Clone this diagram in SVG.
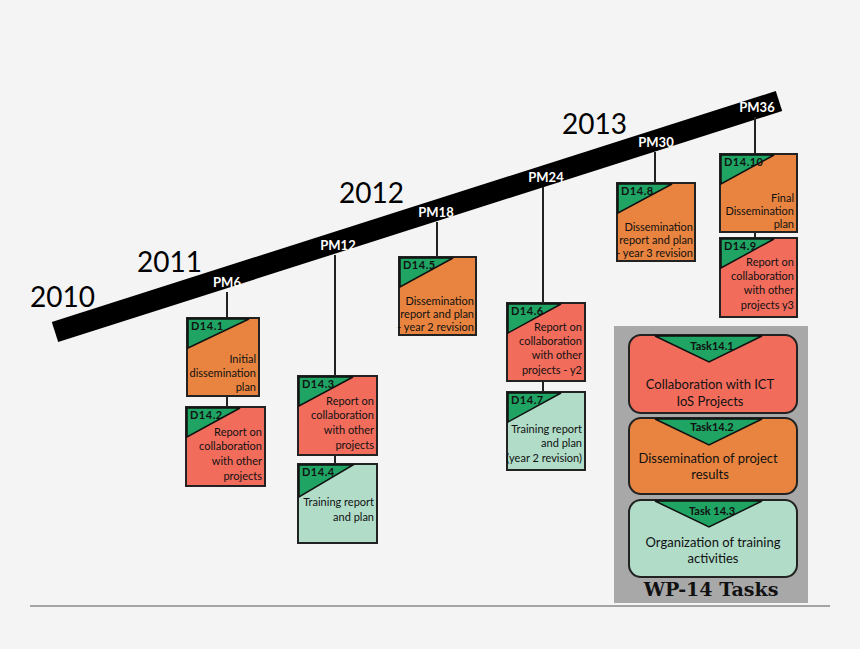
<svg xmlns="http://www.w3.org/2000/svg" width="860" height="649" viewBox="0 0 860 649">
<style>
.bx{stroke:#222;stroke-width:2}
.o{fill:#e8843f}.s{fill:#f26c5c}.m{fill:#b0dcc8}
.tri{fill:#1fa463;stroke:#111;stroke-width:1.5}
.id{font:bold 11px Lato,"DejaVu Sans",sans-serif;fill:#111;letter-spacing:0.5px}
.t{font:11px Lato,"Liberation Sans",sans-serif;fill:#111;text-anchor:end}
.pm{font:bold 13px Lato,"Liberation Sans",sans-serif;fill:#fff;text-anchor:middle}
.yr{font:28px Lato,"Liberation Sans",sans-serif;fill:#000}
.st{stroke:#222;stroke-width:2}
.tt{font:13px Lato,"Liberation Sans",sans-serif;fill:#111;text-anchor:middle}
.tk{font:bold 11px Lato,"Liberation Sans",sans-serif;fill:#111;text-anchor:middle}
</style>
<rect width="860" height="649" fill="#f4f4f4"/>
<g id="timeline">
<line x1="55" y1="332" x2="779" y2="101" stroke="#000" stroke-width="21"/>
<text class="pm" x="227" y="287">PM6</text>
<text class="pm" x="338" y="250">PM12</text>
<text class="pm" x="436" y="217">PM18</text>
<text class="pm" x="546" y="182">PM24</text>
<text class="pm" x="656" y="147">PM30</text>
<text class="pm" x="757" y="112">PM36</text>
<text class="yr" x="30" y="307">2010</text>
<text class="yr" x="137" y="272">2011</text>
<text class="yr" x="339" y="203">2012</text>
<text class="yr" x="562" y="134">2013</text>
</g>
<g id="connectors">
<line class="st" x1="227" y1="292" x2="227" y2="318"/>
<line class="st" x1="227" y1="396" x2="227" y2="407"/>
<line class="st" x1="335" y1="255" x2="335" y2="376"/>
<line class="st" x1="335" y1="455" x2="335" y2="464"/>
<line class="st" x1="437" y1="222" x2="437" y2="257"/>
<line class="st" x1="543" y1="187" x2="543" y2="303"/>
<line class="st" x1="543" y1="381" x2="543" y2="392"/>
<line class="st" x1="655" y1="152" x2="655" y2="183"/>
<line class="st" x1="755" y1="117" x2="755" y2="154"/>
<line class="st" x1="755" y1="232" x2="755" y2="238"/>
</g>
<g id="d141"><rect class="bx o" x="187" y="318" width="72" height="78"/><path class="tri" d="M188,319H249L188,348Z"/><text class="id" x="191" y="330">D14.1</text><text class="t" x="256" y="363">Initial</text><text class="t" x="256" y="377">dissemination</text><text class="t" x="256" y="391">plan</text></g>
<g id="d142"><rect class="bx s" x="186" y="407" width="79" height="79"/><path class="tri" d="M187,408H240L187,437Z"/><text class="id" x="190" y="419">D14.2</text><text class="t" x="262" y="436">Report on</text><text class="t" x="262" y="450">collaboration</text><text class="t" x="262" y="465">with other</text><text class="t" x="262" y="480">projects</text></g>
<g id="d143"><rect class="bx s" x="298" y="376" width="79" height="79"/><path class="tri" d="M299,377H353L299,406Z"/><text class="id" x="302" y="388">D14.3</text><text class="t" x="374" y="405">Report on</text><text class="t" x="374" y="419">collaboration</text><text class="t" x="374" y="434">with other</text><text class="t" x="374" y="449">projects</text></g>
<g id="d144"><rect class="bx m" x="298" y="464" width="79" height="79"/><path class="tri" d="M299,465H353L299,497Z"/><text class="id" x="302" y="476">D14.4</text><text class="t" x="374" y="506">Training report</text><text class="t" x="374" y="521">and plan</text></g>
<g id="d145"><rect class="bx o" x="399" y="257" width="77" height="78"/><path class="tri" d="M400,258H453L400,287Z"/><text class="id" x="403" y="269">D14.5</text><text class="t" x="474" y="305">Dissemination</text><text class="t" x="474" y="318">report and plan</text><text class="t" x="474" y="331">- year 2 revision</text></g>
<g id="d146"><rect class="bx s" x="507" y="303" width="78" height="78"/><path class="tri" d="M508,304H561L508,333Z"/><text class="id" x="511" y="315">D14.6</text><text class="t" x="582" y="331">Report on</text><text class="t" x="582" y="345">collaboration</text><text class="t" x="582" y="359">with other</text><text class="t" x="582" y="374">projects - y2</text></g>
<g id="d147"><rect class="bx m" x="507" y="392" width="78" height="78"/><path class="tri" d="M508,393H561L508,422Z"/><text class="id" x="511" y="404">D14.7</text><text class="t" x="582" y="433">Training report</text><text class="t" x="582" y="447">and plan</text><text class="t" x="582" y="462">(year 2 revision)</text></g>
<g id="d148"><rect class="bx o" x="617" y="183" width="78" height="78"/><path class="tri" d="M618,184H672L618,213Z"/><text class="id" x="621" y="195">D14.8</text><text class="t" x="693" y="231">Dissemination</text><text class="t" x="693" y="244">report and plan</text><text class="t" x="693" y="257">- year 3 revision</text></g>
<g id="d1410"><rect class="bx o" x="720" y="154" width="77" height="78"/><path class="tri" d="M721,155H774L721,184Z"/><text class="id" x="724" y="166">D14.10</text><text class="t" x="794" y="202">Final</text><text class="t" x="794" y="215">Dissemination</text><text class="t" x="794" y="228">plan</text></g>
<g id="d149"><rect class="bx s" x="720" y="238" width="77" height="79"/><path class="tri" d="M721,239H774L721,268Z"/><text class="id" x="724" y="250">D14.9</text><text class="t" x="794" y="266">Report on</text><text class="t" x="794" y="280">collaboration</text><text class="t" x="794" y="294">with other</text><text class="t" x="794" y="309">projects y3</text></g>
<g id="tasks">
<rect x="614" y="326" width="194" height="277" fill="#a8a8a8"/>
<g id="task141"><rect class="bx s" x="629" y="335" width="168" height="78" rx="12"/><path class="tri" d="M655,336H762L709,362Z"/><text class="tk" x="712" y="350">Task14.1</text><text class="tt" x="710" y="389">Collaboration with ICT</text><text class="tt" x="710" y="406">IoS Projects</text></g>
<g id="task142"><rect class="bx o" x="629" y="418" width="168" height="76" rx="12"/><path class="tri" d="M655,419H762L709,445Z"/><text class="tk" x="712" y="431">Task14.2</text><text class="tt" x="708" y="463">Dissemination of project</text><text class="tt" x="710" y="479">results</text></g>
<g id="task143"><rect class="bx m" x="629" y="500" width="168" height="77" rx="12"/><path class="tri" d="M655,501H762L709,527Z"/><text class="tk" x="712" y="515">Task 14.3</text><text class="tt" x="713" y="547">Organization of training</text><text class="tt" x="713" y="563">activities</text></g>
<text x="711" y="596" style="font:bold 19px 'DejaVu Serif',serif;fill:#111;text-anchor:middle">WP-14 Tasks</text>
</g>
<line x1="30" y1="606" x2="830" y2="606" stroke="#555" stroke-width="1"/>
</svg>
